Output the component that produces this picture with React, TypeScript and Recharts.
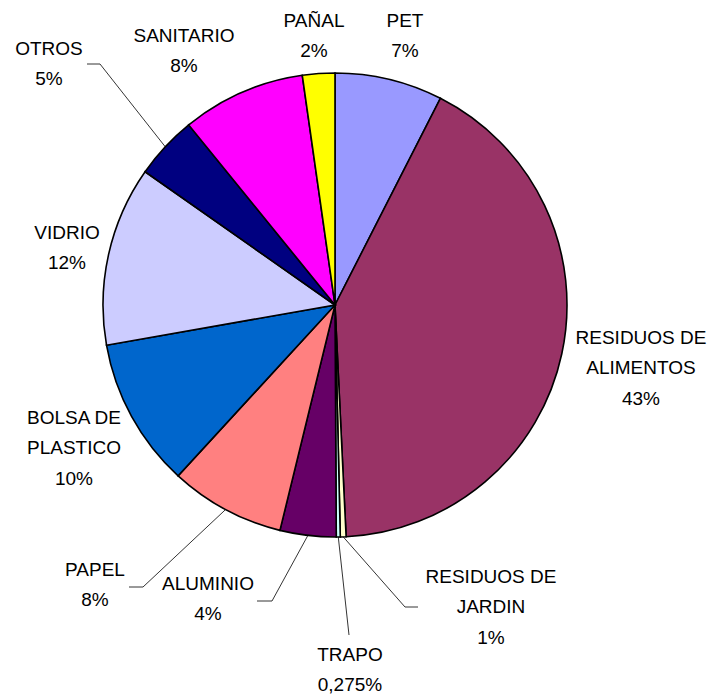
import { PieChart, Pie, Cell } from 'recharts'

// composición de residuos (porcentaje en peso)
const categories = [
  'PET',
  'RESIDUOS DE ALIMENTOS',
  'RESIDUOS DE JARDIN',
  'TRAPO',
  'ALUMINIO',
  'PAPEL',
  'BOLSA DE PLASTICO',
  'VIDRIO',
  'OTROS',
  'SANITARIO',
  'PAÑAL',
]
const values = [7.5, 41.7, 0.4, 0.275, 3.9, 8.0, 10.4, 12.5, 4.4, 8.6, 2.25]
const labelTexts = [
  ['PET', '7%'],
  ['RESIDUOS DE', 'ALIMENTOS', '43%'],
  ['RESIDUOS DE', 'JARDIN', '1%'],
  ['TRAPO', '0,275%'],
  ['ALUMINIO', '4%'],
  ['PAPEL', '8%'],
  ['BOLSA DE', 'PLASTICO', '10%'],
  ['VIDRIO', '12%'],
  ['OTROS', '5%'],
  ['SANITARIO', '8%'],
  ['PAÑAL', '2%'],
]
const colors = [
  '#9999FF', '#993366', '#FFFFCC', '#CCFFFF', '#660066', '#FF8080',
  '#0066CC', '#CCCCFF', '#000080', '#FF00FF', '#FFFF00',
]

// posición de cada etiqueta (centro de la primera línea) y quiebre de la línea guía
const labelLayout: { x: number; y: number; elbow?: [number, number]; end?: [number, number] }[] = [
  { x: 405, y: 20 },
  { x: 641, y: 337 },
  { x: 491, y: 576, elbow: [405, 607], end: [418, 607] },
  { x: 350, y: 654, elbow: [349, 635], end: [349, 635] },
  { x: 208, y: 583, elbow: [272, 601], end: [257, 601] },
  { x: 95, y: 569, elbow: [143, 587], end: [129, 587] },
  { x: 74, y: 417 },
  { x: 67, y: 232 },
  { x: 49, y: 48, elbow: [100, 64], end: [87, 64] },
  { x: 184, y: 35 },
  { x: 314, y: 20 },
]

const data = categories.map((name, i) => ({ name, value: values[i] }))

const RAD = Math.PI / 180
const LINE_H = 30.5

function renderLabel(props: any) {
  const { cx, cy, outerRadius, midAngle, index } = props
  const lay = labelLayout[index]
  const lines = labelTexts[index]
  let guide = null
  if (lay.elbow && lay.end) {
    const sx = cx + outerRadius * Math.cos(-midAngle * RAD)
    const sy = cy + outerRadius * Math.sin(-midAngle * RAD)
    guide = (
      <polyline
        points={`${sx},${sy} ${lay.elbow[0]},${lay.elbow[1]} ${lay.end[0]},${lay.end[1]}`}
        fill="none"
        stroke="#000"
        strokeWidth={0.8}
      />
    )
  }
  return (
    <g key={`lbl-${index}`}>
      {guide}
      <text
        x={lay.x}
        y={lay.y}
        textAnchor="middle"
        fontFamily="'Liberation Sans', Arial, sans-serif"
        fontSize={19}
        fill="#000"
      >
        {lines.map((t, j) => (
          <tspan key={j} x={lay.x} y={lay.y + j * LINE_H} dy="0.36em">
            {t}
          </tspan>
        ))}
      </text>
    </g>
  )
}

export default function App() {
  return (
    <div style={{ position: 'absolute', left: 0, top: 0, width: 711, height: 696, background: '#fff' }}>
      <PieChart width={711} height={696} margin={{ top: 0, right: 0, bottom: 0, left: 0 }}>
        <Pie
          data={data}
          dataKey="value"
          nameKey="name"
          cx={335}
          cy={305}
          outerRadius={232}
          startAngle={90}
          endAngle={-270}
          stroke="#000"
          strokeWidth={1.6}
          label={renderLabel}
          labelLine={false}
          isAnimationActive={false}
        >
          {data.map((d, i) => (
            <Cell key={d.name} fill={colors[i]} />
          ))}
        </Pie>
      </PieChart>
    </div>
  )
}
